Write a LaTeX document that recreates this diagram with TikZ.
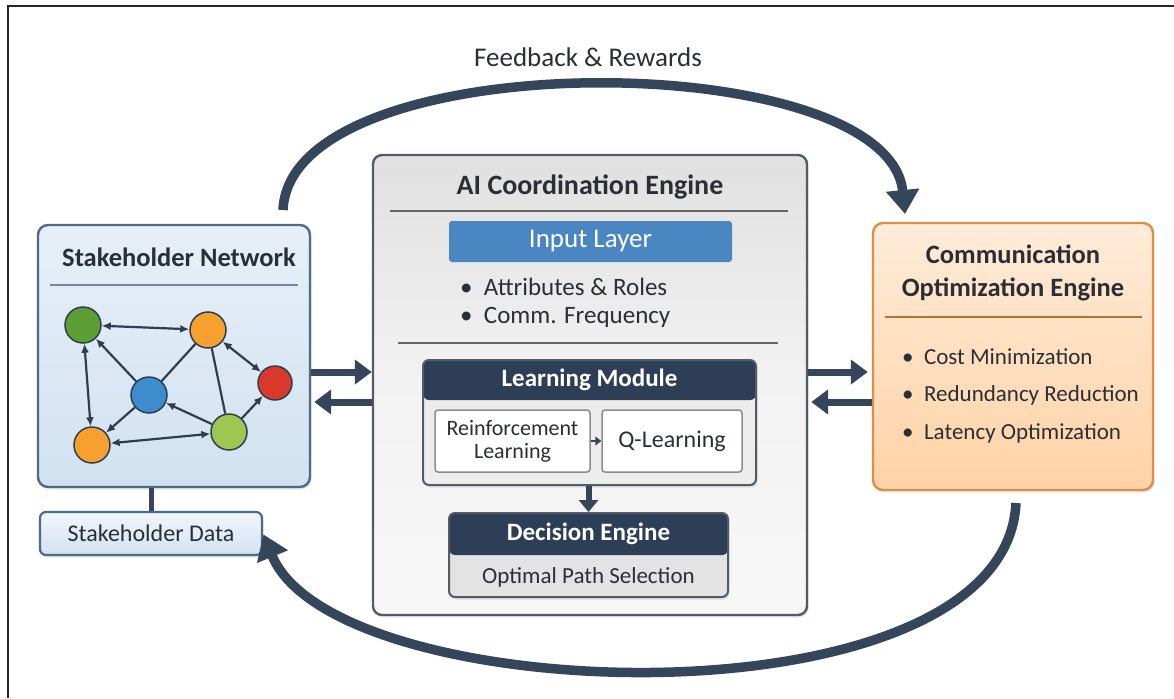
\documentclass[tikz,border=0pt]{standalone}
\usepackage{fontspec}
\setmainfont{Carlito}
\usetikzlibrary{arrows.meta,shadows}
\definecolor{ink}{HTML}{2A2F36}
\definecolor{navy}{HTML}{2E3E57}
\definecolor{arrowc}{HTML}{35465B}
\definecolor{snfill}{HTML}{DCE9F5}
\definecolor{snfillb}{HTML}{D2E2F1}
\definecolor{snborder}{HTML}{4D6A88}
\definecolor{aiborder}{HTML}{525C68}
\definecolor{coeborder}{HTML}{DE8E48}
\definecolor{inputc}{HTML}{4A87C2}
\definecolor{cgreen}{HTML}{5A9E35}
\definecolor{corange}{HTML}{F6A12F}
\definecolor{cred}{HTML}{D8392B}
\definecolor{cblue}{HTML}{3D8CCB}
\definecolor{clgreen}{HTML}{9DC653}
\definecolor{edgec}{HTML}{2F3E4E}
\begin{document}
\begin{tikzpicture}[x=1pt,y=-1pt,
  shadowed/.style={drop shadow={opacity=0.18,shadow xshift=1.5pt,shadow yshift=-2.5pt}},
  txt/.style={inner sep=0pt,text=ink},
  ttl/.style={txt,font=\fontsize{26.5}{31}\selectfont\bfseries},
  bodyt/.style={txt,font=\fontsize{23}{28}\selectfont},
  hdt/.style={inner sep=0pt,text=white,font=\fontsize{25}{30}\selectfont\bfseries},
  node circ/.style={circle,minimum size=36pt,inner sep=0pt,draw=edgec,line width=1.5pt},
  edge/.style={draw=edgec,line width=2.2pt,>={Latex[length=9pt,width=8pt]}},
  bigarrow/.style={draw=arrowc,line width=7pt,-{Triangle[length=17pt,width=24pt]}},
  arc/.style={draw=arrowc,line width=9.5pt,-{Triangle[length=24pt,width=32pt]}},
  sepline/.style={draw=gray!80!black,line width=1.6pt}
]
\useasboundingbox (0,0) rectangle (1174,698);
\fill[white] (0,0) rectangle (1174,698);
% frame
\draw[black!85,line width=2.5pt] (1174,6) -- (8,6) -- (8,698);

% feedback arc
\node[txt,font=\fontsize{27}{32}\selectfont] (fbt) at (588,57) {Feedback \& Rewards};
\coordinate (fa) at (283,210);
\coordinate (fz) at (905,214);
\draw[arc] (fa) .. controls (290,42) and (888,45) .. (fz);

% stakeholder network
\node[shadowed,draw=snborder,line width=2.4pt,rounded corners=10pt,top color=snfill!70!white,bottom color=snfillb,
      minimum width=272pt,minimum height=262pt] (sn) at (174,356) {};
\node[ttl] (snt) at (179,257) {Stakeholder Network};
\draw[draw=snborder!80,line width=2pt] (50,285) -- (298,285);

\node[node circ,fill=cgreen] (g1) at (83,325) {};
\node[node circ,fill=corange] (o1) at (208,330) {};
\node[node circ,fill=cred,minimum size=34pt] (r1) at (275,383) {};
\node[node circ,fill=cblue] (b1) at (149,395) {};
\node[node circ,fill=clgreen] (lg) at (229,432) {};
\node[node circ,fill=corange] (o2) at (92,445) {};
\draw[edge,<->] (g1) -- (o1);
\draw[edge,<->] (g1) -- (o2);
\draw[edge,->] (b1) -- (g1);
\draw[edge] (b1) -- (o1);
\draw[edge,->] (b1) -- (o2);
\draw[edge,->] (lg) -- (b1);
\draw[edge] (o1) -- (lg);
\draw[edge,<->] (o1) -- (r1);
\draw[edge,->] (lg) -- (r1);
\draw[edge,<->] (o2) -- (lg);

% stakeholder data
\node[shadowed,draw=snborder,line width=2.2pt,rounded corners=6pt,top color=snfill!40!white,bottom color=snfillb,
      minimum width=222pt,minimum height=43pt,font=\fontsize{24}{28}\selectfont,text=ink] (sd) at (151,533.5) {Stakeholder Data};
\draw[draw=arrowc,line width=5pt] (sd.north) -- (sd.north |- sn.south);

% AI coordination engine
\node[shadowed,draw=aiborder,line width=2.4pt,rounded corners=9pt,top color=black!12,bottom color=black!3,middle color=black!5,
      minimum width=434pt,minimum height=460pt] (ai) at (590,385) {};
\node[ttl,font=\fontsize{28}{33}\selectfont\bfseries] (ait) at (590,187) {AI Coordination Engine};
\draw[sepline] (390,211) -- (788,211);
\node[fill=inputc,rounded corners=3pt,minimum width=283pt,minimum height=41pt,inner sep=0pt,
      text=white,font=\fontsize{27}{32}\selectfont] (il) at (590.5,241.5) {Input Layer};
\node[bodyt,anchor=west,font=\fontsize{25}{30}\selectfont] (b1t) at (460,287) {\textbullet\ \ Attributes \& Roles};
\node[bodyt,anchor=west,font=\fontsize{25}{30}\selectfont] (b2t) at (460,317) {\textbullet\ \ Comm. Frequency};
\draw[sepline] (398,343) -- (778,343);

% learning module
\node[shadowed,draw=aiborder,line width=2pt,rounded corners=6pt,fill=black!7,
      minimum width=333pt,minimum height=125pt,
      path picture={\fill[navy] (path picture bounding box.north west) rectangle ([yshift=-40pt]path picture bounding box.north east);}] (lm) at (589.5,422.5) {};
\node[hdt] (lmt) at (589.5,380) {Learning Module};
\node[draw=black!45,line width=1.5pt,fill=white,rounded corners=3pt,minimum width=155pt,minimum height=62pt,inner sep=0pt,
      align=center,text=ink,font=\fontsize{22}{23}\selectfont] (rl) at (512.5,441) {Reinforcement\\Learning};
\node[draw=black!45,line width=1.5pt,fill=white,rounded corners=3pt,minimum width=140pt,minimum height=62pt,inner sep=0pt,
      text=ink,font=\fontsize{24}{28}\selectfont] (ql) at (672,441) {Q-Learning};
\draw[draw=arrowc,line width=2.5pt,-{Triangle[length=6pt,width=9pt]}] (rl.east) -- (ql.west);

% decision engine
\node[shadowed,draw=aiborder,line width=2pt,rounded corners=6pt,fill=black!11,
      minimum width=279pt,minimum height=84pt,
      path picture={\fill[navy] (path picture bounding box.north west) rectangle ([yshift=-42pt]path picture bounding box.north east);}] (de) at (588.5,555) {};
\node[hdt] (det) at (588.5,534) {Decision Engine};
\node[bodyt] (dest) at (588.5,577) {Optimal Path Selection};
\draw[draw=arrowc,line width=6pt,-{Triangle[length=12pt,width=19pt]}] (lm.south -| de.north) -- (de.north);

% communication optimization engine
\node[shadowed,draw=coeborder,line width=2.4pt,rounded corners=10pt,top color=orange!15!white,bottom color=orange!35!white,
      minimum width=280pt,minimum height=267pt] (coe) at (1013,356.5) {};
\node[ttl,align=center,font=\fontsize{26.5}{33}\selectfont\bfseries] (coet) at (1013,273) {Communication\\Optimization Engine};
\draw[draw=coeborder!80!black,line width=1.6pt] (885,317) -- (1142,317);
\node[bodyt,anchor=west] (c1) at (902,357) {\textbullet\ \ Cost Minimization};
\node[bodyt,anchor=west] (c2) at (902,395) {\textbullet\ \ Redundancy Reduction};
\node[bodyt,anchor=west] (c3) at (902,433) {\textbullet\ \ Latency Optimization};

% horizontal arrows
\draw[bigarrow] ([yshift=-16pt]sn.east) -- ([yshift=-16pt]sn.east -| ai.west);
\draw[bigarrow,shorten >=3pt] ([yshift=-46pt]sn.east -| ai.west) -- ([yshift=-46pt]sn.east);
\draw[bigarrow,shorten >=4pt] ([yshift=-15.5pt]coe.west -| ai.east) -- ([yshift=-15.5pt]coe.west);
\draw[bigarrow,shorten >=3pt] ([yshift=-45.5pt]coe.west) -- ([yshift=-45.5pt]coe.west -| ai.east);

% bottom arc
\coordinate (ba) at (1016,503);
\draw[arc,shorten >=1pt] (ba) .. controls (1005,730) and (335,710) .. (sd.east);
\end{tikzpicture}
\end{document}
